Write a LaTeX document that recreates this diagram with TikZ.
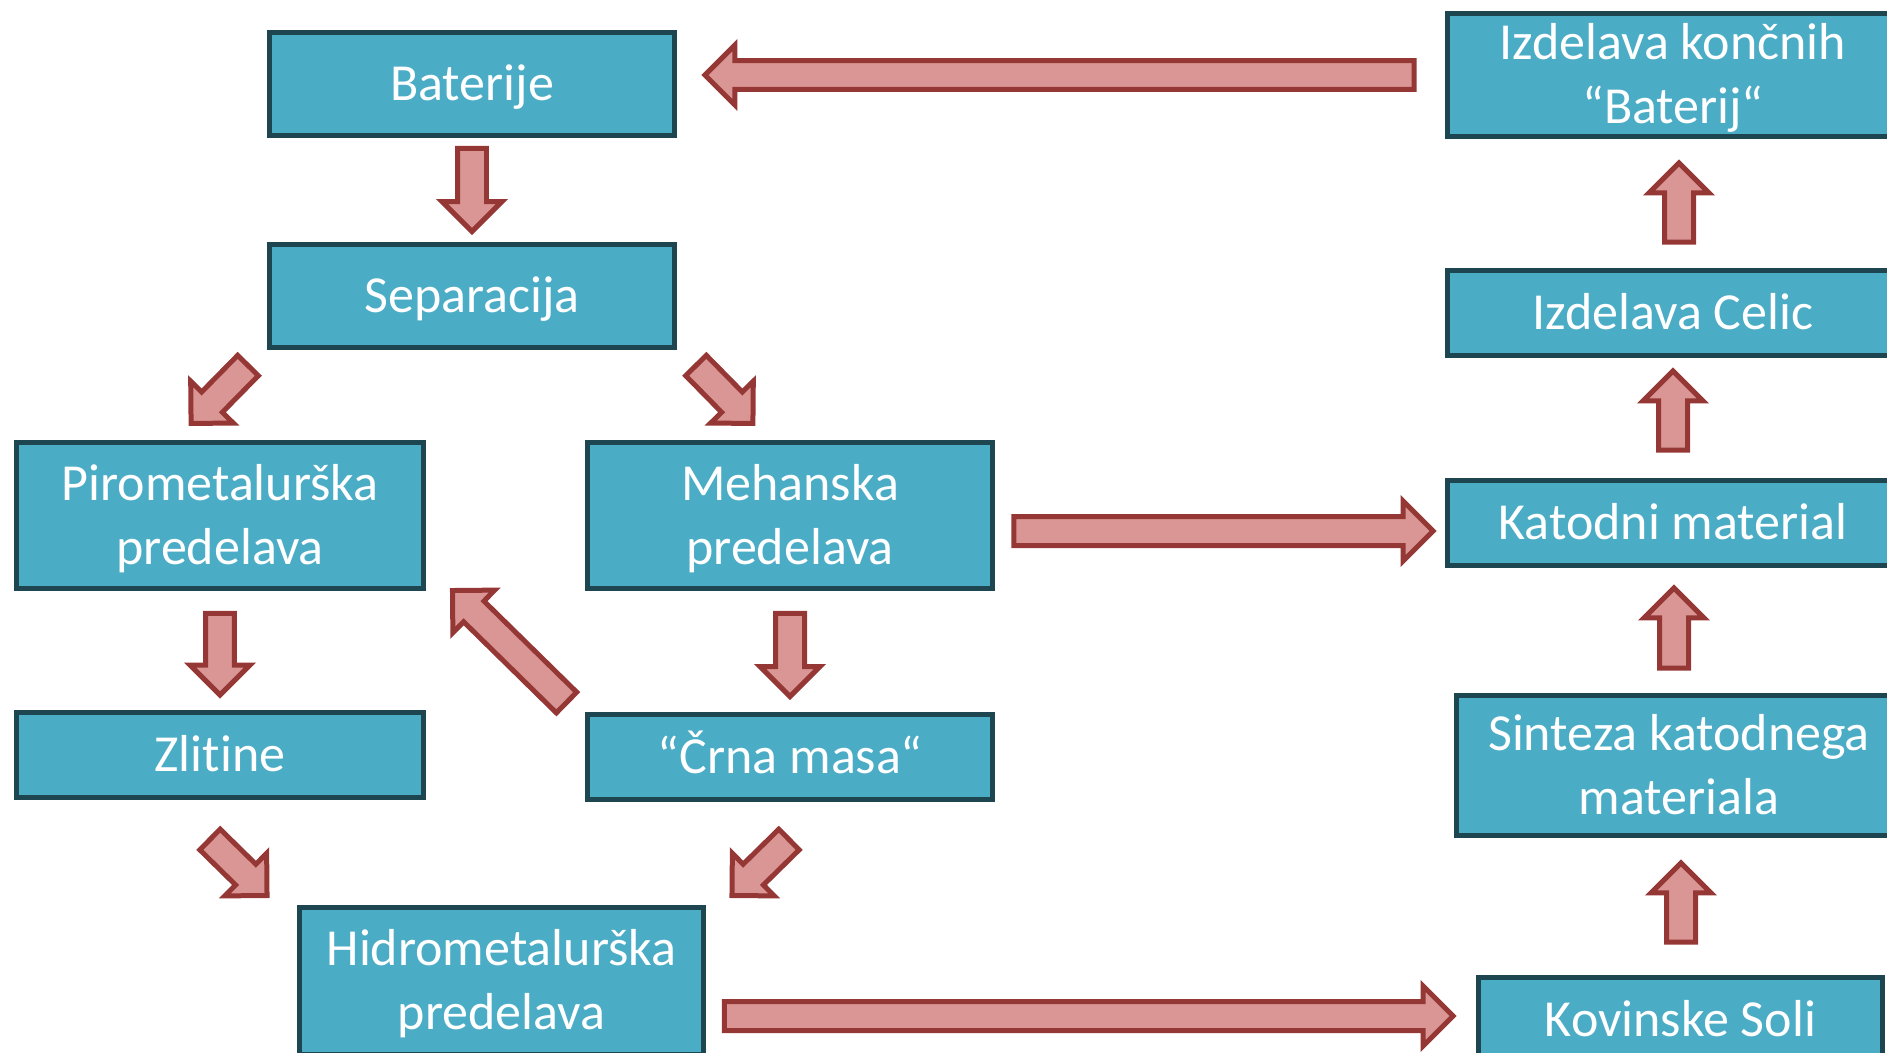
\documentclass[tikz,border=0pt]{standalone}
\usepackage{fontspec}
\setmainfont[Ligatures=NoCommon]{Carlito}
\usetikzlibrary{calc}
\definecolor{boxfill}{HTML}{4BACC6}
\definecolor{boxline}{HTML}{1D4651}
\definecolor{arrowfill}{HTML}{D99694}
\definecolor{arrowline}{HTML}{953735}
\tikzset{
        boxnode/.style={align=center,inner sep=0pt,outer sep=0pt},
        % Process boxes
        node_step/.style={boxnode, rectangle, draw=boxline, fill=boxfill, line width=0.1cm, text=white,
                font=\fontsize{29.6}{36.4}\selectfont, text height=19pt, text depth=0pt,
                minimum width=8.1cm, minimum height=1.7cm},
        % Boxes with two lines of text
        two_lines/.style={text height=55.4pt},
        % Boxes on the right side
        node_right/.style={node_step, minimum width=9.02cm},
        % Block arrows
        block_arrow/.style={draw=arrowline, fill=arrowfill, line width=0.1cm, line join=miter}
}
% block arrow from tail #1 to tip #2
\newcommand{\blockarrow}[2]{%
    \draw[block_arrow] let \p1=(#1), \p2=(#2),
            \n1={atan2(\y2-\y1,\x2-\x1)}, \n2={veclen(\x2-\x1,\y2-\y1)} in
        ([shift={(\p1)},rotate=\n1]0pt,8.25pt) -- ([shift={(\p1)},rotate=\n1]\n2-17pt,8.25pt)
        -- ([shift={(\p1)},rotate=\n1]\n2-17pt,17pt) -- ([shift={(\p1)},rotate=\n1]\n2,0pt)
        -- ([shift={(\p1)},rotate=\n1]\n2-17pt,-17pt) -- ([shift={(\p1)},rotate=\n1]\n2-17pt,-8.25pt)
        -- ([shift={(\p1)},rotate=\n1]0pt,-8.25pt) -- cycle;
}

\begin{document}
\begin{tikzpicture}[x=0.02cm, y=-0.02cm]
    \useasboundingbox (0,0) rectangle (1887,1052);
    \clip (0,0) rectangle (1887,1052);

    % left part
    \node[node_step, minimum height=2.06cm] (bat) at (472,84) {Baterije};
    \node[node_step, minimum height=2.06cm] (sep) at (472,296) {Separacija};
    \node[node_step, two_lines, minimum width=8.14cm, minimum height=2.92cm] (piro) at (220,515.5) {Pirometalurška\\predelava};
    \node[node_step, two_lines, minimum height=2.92cm] (meh) at (790,515.5) {Mehanska\\predelava};
    \node[node_step, minimum width=8.14cm] (zlit) at (220,754.5) {Zlitine};
    \node[node_step] (crna) at (790,757) {“Črna masa“};
    \node[node_step, two_lines, minimum height=2.94cm] (hidro) at (501.5,981) {Hidrometalurška\\predelava};

    % right part
    \node[node_right, two_lines, minimum height=2.46cm] (izk) at (1673,75) {Izdelava končnih\\“Baterij“};
    \node[node_right] (celic) at (1673,313) {Izdelava Celic};
    \node[node_right] (kat) at (1673,523) {Katodni material};
    \node[node_right, two_lines, minimum width=8.9cm, minimum height=2.8cm] (sint) at (1679,765.5) {Sinteza katodnega\\materiala};
    \node[node_step, minimum width=8.08cm] (kov) at (1680.5,1020) {Kovinske Soli};

    % arrows
    \blockarrow{$(bat.south)+(0,13)$}{$(sep.north)+(0,-13)$}
    \blockarrow{$(sep.south)+(-224,18)$}{$(piro.north)+(-29,-19)$}
    \blockarrow{$(sep.south)+(224,18)$}{$(meh.north)+(-37,-19)$}
    \blockarrow{$(piro.south)+(0,25)$}{$(zlit.north)+(0,-17)$}
    \blockarrow{$(meh.south)+(0,25)$}{$(crna.north)+(0,-18)$}
    \blockarrow{$(crna.north west)+(-21,-12)$}{$(piro.south east)+(29,2)$}
    \blockarrow{$(zlit.south)+(-10,42.5)$}{$(hidro.north west)+(-32,-12)$}
    \blockarrow{$(crna.south)+(-1,40)$}{$(hidro.north east)+(28,-12)$}
    \blockarrow{$(hidro.east)+(20.5,35)$}{$(kov.west)+(-25.5,-4)$}
    \blockarrow{$(meh.east)+(21.5,15.5)$}{$(kat.west)+(-14.5,8)$}
    \blockarrow{$(izk.west)+(-33.5,0)$}{$(bat.east)+(30.5,-9)$}
    \blockarrow{$(kov.north)+(0.5,-35.5)$}{$(sint.south)+(2,27.5)$}
    \blockarrow{$(sint.north)+(-5,-27.5)$}{$(kat.south)+(1,22.5)$}
    \blockarrow{$(kat.north)+(0,-30.5)$}{$(celic.south)+(0,15.5)$}
    \blockarrow{$(celic.north)+(6,-28.5)$}{$(izk.south)+(6,26.5)$}
\end{tikzpicture}
\end{document}
